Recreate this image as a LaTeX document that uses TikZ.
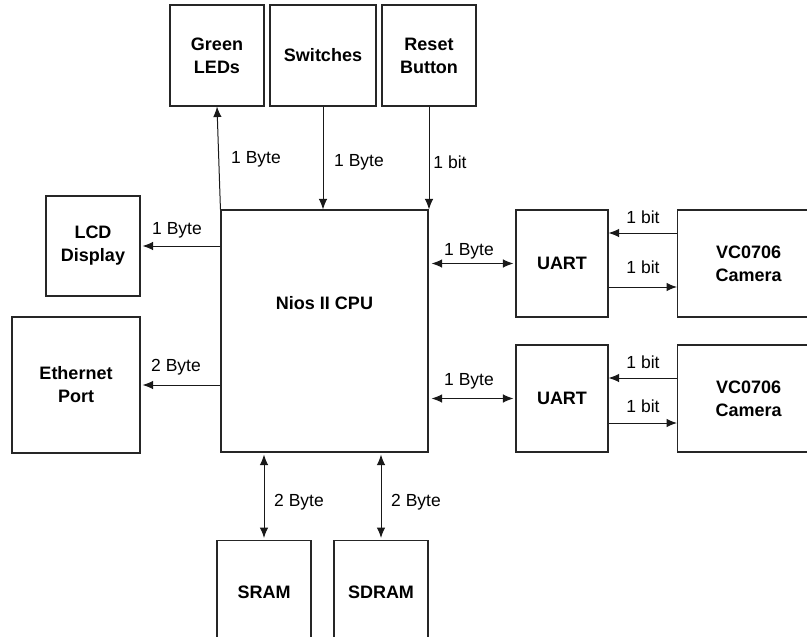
\documentclass[tikz,border=0pt]{standalone}
\usepackage{fontspec}
\setmainfont{Liberation Sans}
\usetikzlibrary{arrows.meta}
\begin{document}
\begin{tikzpicture}[x=1pt,y=-1pt,
  blk/.style={draw=black!85, line width=1.1pt, inner sep=0pt, align=center,
    font=\fontsize{18}{23}\selectfont\bfseries},
  lbl/.style={inner sep=0pt, font=\fontsize{17.5}{21}\selectfont},
  arr/.style={draw=black!90, line width=1pt, -{Latex[length=10.5pt,width=8.5pt]}},
  biarr/.style={draw=black!90, line width=1pt, {Latex[length=10.5pt,width=8.5pt]}-{Latex[length=10.5pt,width=8.5pt]}}]
\useasboundingbox (0,0) rectangle (807,637);
\clip (0,0) rectangle (807,637);
% blocks
\node[blk, minimum width=94pt, minimum height=101pt] (green) at (217,55.5) {Green\\LEDs};
\node[blk, minimum width=106pt, minimum height=101pt] (sw) at (323,55.5) {Switches};
\node[blk, minimum width=94pt, minimum height=101pt] (reset) at (429,55.5) {Reset\\Button};
\node[blk, minimum width=207pt, minimum height=242pt] (cpu) at (324.5,331) {};
\node[font=\fontsize{18}{23}\selectfont\bfseries, inner sep=0pt] (cputxt) at (324.5,303) {Nios II CPU};
\node[blk, minimum width=94pt, minimum height=100pt] (lcd) at (93,246) {LCD\\Display};
\node[blk, minimum width=128pt, minimum height=136pt] (eth) at (76,385) {Ethernet\\Port};
\node[blk, minimum width=92pt, minimum height=107pt] (uart1) at (562,263.5) {UART};
\node[blk, minimum width=142pt, minimum height=107pt, anchor=west] (cam1) at (677,263.5) {VC0706\\Camera};
\node[blk, minimum width=92pt, minimum height=107pt] (uart2) at (562,398.5) {UART};
\node[blk, minimum width=142pt, minimum height=107pt, anchor=west] (cam2) at (677,398.5) {VC0706\\Camera};
\node[blk, minimum width=94pt, minimum height=104pt, anchor=north] (sram) at (264,540) {SRAM};
\node[blk, minimum width=94pt, minimum height=104pt, anchor=north] (sdram) at (381,540) {SDRAM};
% connectors
\draw[arr] (cpu.north west) -- (green.south);
\draw[arr] (sw.south) -- (sw.south |- cpu.north);
\draw[arr] (reset.south) -- (reset.south |- cpu.north);
\draw[arr] (lcd.east -| cpu.west) -- ([xshift=2pt]lcd.east);
\draw[arr] (eth.east -| cpu.west) -- ([xshift=2pt]eth.east);
\draw[biarr, shorten <=3pt, shorten >=2pt] (uart1.west -| cpu.east) -- (uart1.west);
\draw[biarr, shorten <=3pt, shorten >=2pt] (uart2.west -| cpu.east) -- (uart2.west);
\draw[arr] (cam1.west |- 0,233) -- (uart1.east |- 0,233);
\draw[arr] (uart1.east |- 0,287) -- (cam1.west |- 0,287);
\draw[arr] (cam2.west |- 0,378) -- (uart2.east |- 0,378);
\draw[arr] (uart2.east |- 0,423) -- (cam2.west |- 0,423);
\draw[biarr, shorten <=2pt, shorten >=2pt] (sram.north |- cpu.south) -- (sram.north);
\draw[biarr, shorten <=2pt, shorten >=2pt] (sdram.north |- cpu.south) -- (sdram.north);
% labels
\node[lbl] (l1) at (256,159) {1 Byte};
\node[lbl] (l2) at (359,162) {1 Byte};
\node[lbl] (l3) at (450,162) {1 bit};
\node[lbl] (l4) at (177,230) {1 Byte};
\node[lbl] (l5) at (176,367) {2 Byte};
\node[lbl] (l6) at (469,251) {1 Byte};
\node[lbl] (l7) at (643,217) {1 bit};
\node[lbl] (l8) at (643,267) {1 bit};
\node[lbl] (l9) at (469,381) {1 Byte};
\node[lbl] (l10) at (643,362) {1 bit};
\node[lbl] (l11) at (643,406) {1 bit};
\node[lbl] (l12) at (299,502) {2 Byte};
\node[lbl] (l13) at (416,502) {2 Byte};
\end{tikzpicture}
\end{document}
